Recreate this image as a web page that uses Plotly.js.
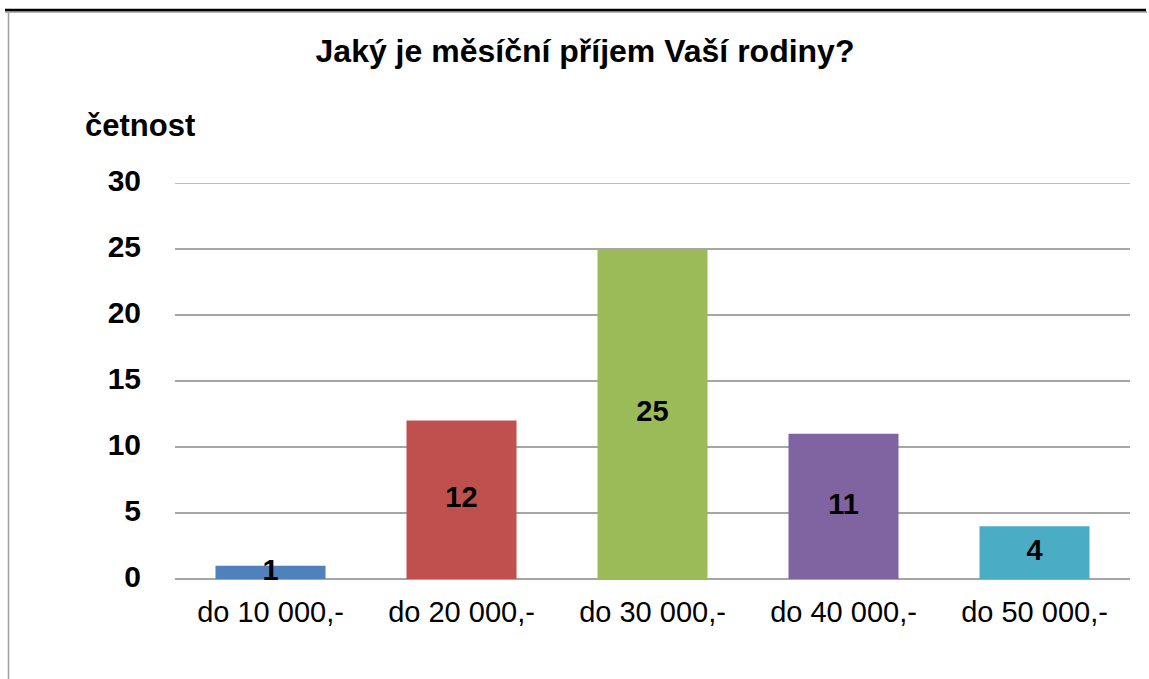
<!DOCTYPE html>
<html>
<head>
<meta charset="utf-8">
<script src="https://cdn.plot.ly/plotly-3.0.1.min.js"></script>
<style>html,body{margin:0;padding:0;background:#fff;}#chart{width:1149px;height:679px;}</style>
</head>
<body>
<div id="chart"></div>
<script>
const categories = ["do 10 000,-", "do 20 000,-", "do 30 000,-", "do 40 000,-", "do 50 000,-"];
const counts = [1, 12, 25, 11, 4];
const barColors = ["#4F81BD", "#C0504D", "#9BBB59", "#8064A2", "#4BACC6"];
const yTicks = [0, 5, 10, 15, 20, 25, 30];

const FONT = "Liberation Sans, Arial, sans-serif";

const bars = {
  type: "bar",
  x: categories,
  y: counts,
  marker: { color: barColors, line: { width: 0 } },
  width: 0.576,
  hoverinfo: "none"
};
const labels = {
  type: "scatter",
  mode: "text",
  x: categories,
  y: counts.map(v => v / 2),
  text: counts.map(String),
  textposition: "middle center",
  textfont: { family: FONT, size: 29, color: "#000", weight: "bold" },
  hoverinfo: "none",
  cliponaxis: false
};

const W = 955, H = 396, L = 175, T = 183;
const px = x => (x - L) / W;
const py = y => (T + H - y) / H;
const yMax = yTicks[yTicks.length - 1];

const layout = {
  width: 1149, height: 679,
  margin: { l: L, r: 1149 - L - W, t: T, b: 679 - T - H },
  paper_bgcolor: "#fff", plot_bgcolor: "#fff",
  showlegend: false,
  bargap: 0.424,
  title: {
    text: "<b>Jaký je měsíční příjem Vaší rodiny?</b>",
    x: 585 / 1149, xanchor: "center", xref: "container",
    y: 1 - 51 / 679, yanchor: "middle", yref: "container",
    font: { family: FONT, size: 32, color: "#000" }
  },
  xaxis: {
    type: "category",
    tickfont: { family: FONT, size: 29, color: "#000" },
    showgrid: false, zeroline: false, showline: false,
    ticks: "outside", ticklen: 7, tickcolor: "rgba(0,0,0,0)",
    fixedrange: true
  },
  yaxis: {
    range: [0, yMax],
    tickvals: yTicks,
    ticktext: yTicks.map(String),
    tickfont: { family: FONT, size: 30, color: "#000", weight: "bold" },
    showgrid: true, gridcolor: "#A6A6A6", gridwidth: 1.6,
    zeroline: true, zerolinecolor: "#A6A6A6", zerolinewidth: 1.6,
    showline: false,
    ticks: "outside", ticklen: 27, tickcolor: "rgba(0,0,0,0)",
    ticklabelshift: -3,
    fixedrange: true
  },
  annotations: [{
    text: "<b>četnost</b>",
    xref: "paper", yref: "paper",
    x: px(83), y: py(125), xanchor: "left", yanchor: "middle",
    showarrow: false,
    font: { family: FONT, size: 31, color: "#000" }
  }],
  shapes: [
    { type: "line", xref: "paper", yref: "y", x0: 0, x1: 1, y0: yMax, y1: yMax, line: { color: "#A6A6A6", width: 1.6 }, layer: "below" },
    { type: "line", xref: "paper", yref: "paper", x0: px(5), x1: px(1147), y0: py(12), y1: py(12), line: { color: "#9A9A9A", width: 1.5 }, layer: "above" },
    { type: "line", xref: "paper", yref: "paper", x0: px(5), x1: px(1146), y0: py(10), y1: py(10), line: { color: "#000", width: 2.5 }, layer: "above" },
    { type: "line", xref: "paper", yref: "paper", x0: px(8.5), x1: px(8.5), y0: py(11), y1: py(679), line: { color: "#A0A0A0", width: 1.5 }, layer: "above" }
  ]
};

Plotly.newPlot("chart", [bars, labels], layout, { staticPlot: true, displayModeBar: false });
</script>
</body>
</html>
